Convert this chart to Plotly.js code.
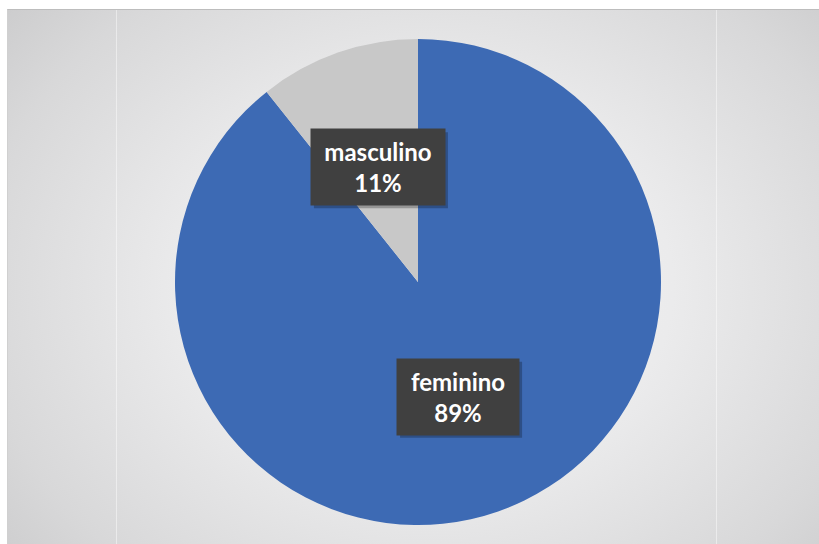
<!DOCTYPE html>
<html><head><meta charset="utf-8">
<script src="https://cdn.plot.ly/plotly-3.0.1.min.js"></script>
<style>
html,body{margin:0;padding:0;background:#fff;}
#wrap{position:relative;width:819px;height:544px;}
#bg{position:absolute;left:7px;top:9px;width:812px;height:535px;
 background:radial-gradient(ellipse 75% 90% at 52% 52%, #f3f3f3 0%, #ebebec 40%, #d8d8d9 75%, #c6c6c7 100%);
 border-top:1px solid #bdbdbd;border-left:1px solid #d0d0d0;box-sizing:border-box;}
.vl{position:absolute;top:10px;width:1px;height:534px;background:rgba(255,255,255,0.45);}
#chart{position:absolute;left:0;top:0;width:819px;height:544px;}
</style></head>
<body><div id="wrap"><div id="bg"></div><div class="vl" style="left:116px"></div><div class="vl" style="left:716px"></div><div id="chart"></div></div>
<script>
const labels = ["feminino", "masculino"];
const values = [89.3, 10.7];
const colors = ["#3d6ab4", "#c8c8c8"];

const W = 819, H = 544;
const m = {l: 175, r: 158, t: 39, b: 19};
const pw = W - m.l - m.r, ph = H - m.t - m.b;
const cx = m.l + pw / 2, cy = m.t + ph / 2;
const R = ph / 2;
const total = values.reduce((a, b) => a + b, 0);
const boxW = [122, 134], boxH = 76;

const annotations = [], shapes = [];
let start = 0;
values.forEach((v, i) => {
  const mid = (start + v / 2) / total * 2 * Math.PI; // clockwise from top
  start += v;
  const px = cx + Math.sin(mid) * R * 0.5;
  const py = cy - Math.cos(mid) * R * 0.5;
  // shadow rectangle, offset down-right
  shapes.push({type: "rect", xref: "paper", yref: "paper", layer: "above",
    x0: (px - boxW[i] / 2 + 3 - m.l) / pw, x1: (px + boxW[i] / 2 + 3 - m.l) / pw,
    y0: 1 - (py + boxH / 2 + 3 - m.t) / ph, y1: 1 - (py - boxH / 2 + 3 - m.t) / ph,
    fillcolor: "rgba(0,0,0,0.25)", line: {width: 0}});
  annotations.push({
    xref: "paper", yref: "paper",
    x: (px - m.l) / pw, y: 1 - (py - m.t) / ph,
    xanchor: "center", yanchor: "middle", showarrow: false,
    text: labels[i] + "<br>" + Math.round(v / total * 100) + "%",
    font: {family: "Lato, 'Open Sans', sans-serif", size: 24, color: "#ffffff", weight: "bold"},
    bgcolor: "#404040", width: boxW[i] - 4, height: boxH - 4, borderpad: 2, align: "center"
  });
});

Plotly.newPlot("chart", [{
  type: "pie", labels: labels, values: values, sort: false, direction: "clockwise", rotation: 0,
  marker: {colors: colors, line: {width: 0}}, textinfo: "none", hoverinfo: "label+percent",
  showlegend: false
}], {
  width: W, height: H, margin: m,
  paper_bgcolor: "rgba(0,0,0,0)", plot_bgcolor: "rgba(0,0,0,0)",
  annotations: annotations, shapes: shapes, showlegend: false
}, {displayModeBar: false, staticPlot: true});
</script></body></html>
